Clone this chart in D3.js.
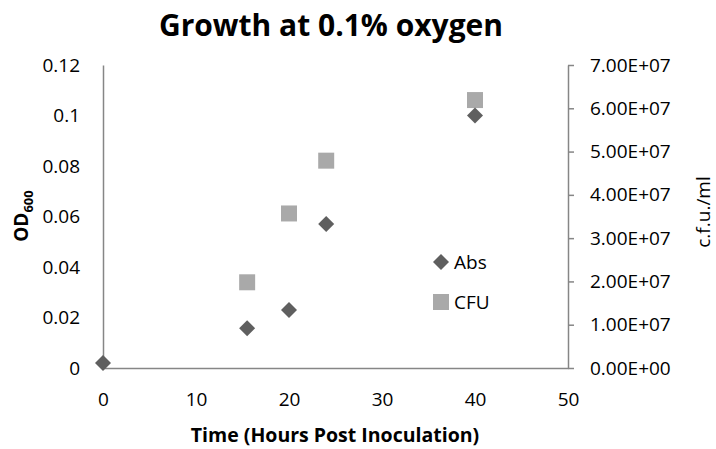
<!DOCTYPE html>
<html>
<head>
    <meta charset="utf-8">
    <script src="https://d3js.org/d3.v7.min.js"></script>
    <style>
        body { margin: 0; background: #fff; }
        text { font-family: "Open Sans", "Liberation Sans", sans-serif; fill: #000; }
    </style>
</head>
<body>
<script>
    var width = 716,
        height = 449;

    // data
    var absHours = [0, 15.5, 20, 24, 40];
    var absValues = [0.002, 0.0157, 0.023, 0.057, 0.1];
    var cfuHours = [15.5, 20, 24, 40];
    var cfuValues = [1.98e7, 3.57e7, 4.79e7, 6.19e7];
    var xTicks = [0, 10, 20, 30, 40, 50];
    var leftTicks = [0, 0.02, 0.04, 0.06, 0.08, 0.1, 0.12];
    var rightTicks = [0, 1e7, 2e7, 3e7, 4e7, 5e7, 6e7, 7e7];
    var legendItems = ["Abs", "CFU"];

    var margin = {left: 103, right: 148, top: 65, bottom: 81};

    var x = d3.scaleLinear().domain([0, 50]).range([margin.left, width - margin.right]);
    var yL = d3.scaleLinear().domain([0, 0.12]).range([height - margin.bottom, margin.top]);
    var yR = d3.scaleLinear().domain([0, 7e7]).range([height - margin.bottom, margin.top]);

    var axisColor = "#868686",
        absColor = "#5f5f5f",
        cfuColor = "#a9a9a9";

    var svg = d3.select("body").append("svg")
        .attr("width", width)
        .attr("height", height);

    function expFmt(v) {
        var s = v.toExponential(2).toUpperCase();   // e.g. 7.00E+7
        return s.replace(/E([+-])(\d)$/, "E$10$2");
    }

    // x axis
    var xAxis = svg.append("g")
        .attr("transform", "translate(0," + yL(0) + ")")
        .call(d3.axisBottom(x).tickValues(xTicks).tickSize(0).tickPadding(25).tickFormat(d3.format("d")));
    xAxis.select(".domain").attr("stroke", axisColor).attr("stroke-width", 1.5);
    xAxis.selectAll("text").style("font-size", "19px").attr("fill", "#000");

    // left axis
    var lAxis = svg.append("g")
        .attr("transform", "translate(" + x(0) + ",0)")
        .call(d3.axisLeft(yL).tickValues(leftTicks).tickSize(0).tickPadding(23)
            .tickFormat(function(d) { return d === 0 ? "0" : String(+d.toFixed(2)); }));
    lAxis.select(".domain").attr("stroke", axisColor).attr("stroke-width", 1.5);
    lAxis.selectAll("text").style("font-size", "19px").attr("fill", "#000");

    // right axis
    var rAxis = svg.append("g")
        .attr("transform", "translate(" + x(50) + ",0)")
        .call(d3.axisRight(yR).tickValues(rightTicks).tickSizeInner(6).tickSizeOuter(0).tickPadding(16).tickFormat(expFmt));
    rAxis.select(".domain").attr("stroke", axisColor).attr("stroke-width", 1.5);
    rAxis.selectAll("line").attr("stroke", axisColor).attr("stroke-width", 1.5);
    rAxis.selectAll("text").style("font-size", "19px").attr("fill", "#000");

    // points
    var square = d3.symbol().type(d3.symbolSquare).size(256);
    var diamond = function(cx, cy, r) {
        return "M" + cx + "," + (cy - r) + "L" + (cx + r) + "," + cy +
               "L" + cx + "," + (cy + r) + "L" + (cx - r) + "," + cy + "Z";
    };

    svg.append("g").selectAll("path")
        .data(cfuHours)
        .enter().append("path")
        .attr("d", square)
        .attr("transform", function(d, i) { return "translate(" + x(d) + "," + yR(cfuValues[i]) + ")"; })
        .attr("fill", cfuColor);

    svg.append("g").selectAll("path")
        .data(absHours)
        .enter().append("path")
        .attr("d", function(d, i) { return diamond(x(d), yL(absValues[i]), 8); })
        .attr("fill", absColor);

    // legend
    var legend = svg.append("g").attr("transform", "translate(441,262)");
    legendItems.forEach(function(name, i) {
        var gy = i * 40;
        if (i === 0) {
            legend.append("path").attr("d", diamond(0, gy, 8)).attr("fill", absColor);
        } else {
            legend.append("rect").attr("x", -8).attr("y", gy - 8).attr("width", 16).attr("height", 16).attr("fill", cfuColor);
        }
        legend.append("text")
            .attr("x", 13).attr("y", gy)
            .attr("dy", "0.35em")
            .style("font-size", "19px")
            .text(name);
    });

    // titles
    svg.append("text")
        .attr("x", 331).attr("y", 36)
        .attr("text-anchor", "middle")
        .style("font-size", "30px").style("font-weight", "bold")
        .text("Growth at 0.1% oxygen");

    svg.append("text")
        .attr("x", 335).attr("y", 442)
        .attr("text-anchor", "middle")
        .style("font-size", "19.5px").style("font-weight", "bold")
        .text("Time (Hours Post Inoculation)");

    var odTitle = svg.append("text")
        .attr("transform", "translate(28,216) rotate(-90)")
        .attr("text-anchor", "middle")
        .style("font-size", "19px").style("font-weight", "bold");
    odTitle.append("tspan").text("OD");
    odTitle.append("tspan").attr("dy", 5).style("font-size", "13px").text("600");

    svg.append("text")
        .attr("transform", "translate(710,212) rotate(-90)")
        .attr("text-anchor", "middle")
        .style("font-size", "19px")
        .text("c.f.u./ml");
</script>
</body>
</html>
